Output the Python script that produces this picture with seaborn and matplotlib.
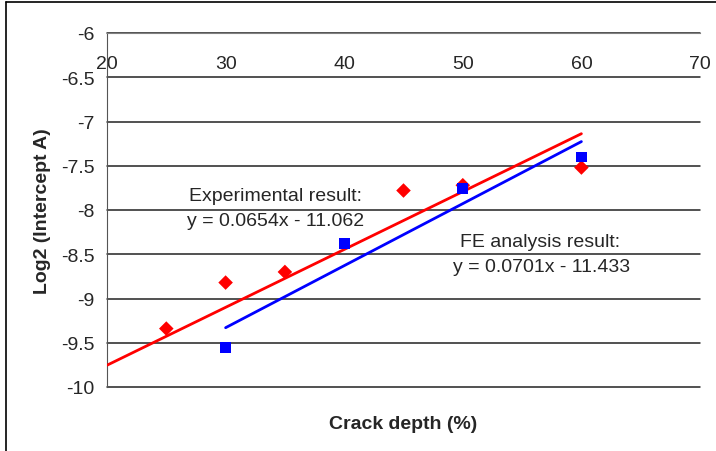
import numpy as np
import pandas as pd
import seaborn as sns
import matplotlib.pyplot as plt
from matplotlib.lines import Line2D

# data
exp_depth = [25, 30, 35, 45, 50, 60]
exp_log2 = [-9.34, -8.82, -8.70, -7.78, -7.72, -7.52]
fe_depth = [30, 40, 50, 60]
fe_log2 = [-9.55, -8.38, -7.76, -7.40]

# trendline coefficients (slope, intercept) and x span
exp_fit = (0.0654, -11.062)
exp_span = [20, 60]
fe_fit = (0.0701, -11.433)
fe_span = [30, 60]

x_ticks = [20, 30, 40, 50, 60, 70]
y_ticks = [-10, -9.5, -9, -8.5, -8, -7.5, -7, -6.5, -6]

sns.set_style("white")
plt.rcParams['font.family'] = ['Liberation Sans', 'DejaVu Sans']
plt.rcParams['axes.unicode_minus'] = False

fig = plt.figure(figsize=(7.16, 4.52), dpi=100)
ax = fig.add_axes([107 / 716, 1 - 388 / 452, 593 / 716, 354 / 452])

exp_df = pd.DataFrame({'depth': exp_depth, 'log2': exp_log2})
fe_df = pd.DataFrame({'depth': fe_depth, 'log2': fe_log2})
exp_line = pd.DataFrame({'depth': exp_span,
                         'log2': [exp_fit[0] * x + exp_fit[1] for x in exp_span]})
fe_line = pd.DataFrame({'depth': fe_span,
                        'log2': [fe_fit[0] * x + fe_fit[1] for x in fe_span]})

# horizontal gridlines
for yv in y_ticks:
    ax.axhline(yv, color='#222222', lw=1.1, zorder=1, clip_on=False)

sns.lineplot(data=exp_line, x='depth', y='log2', ax=ax, color='#ff0000', lw=2, zorder=3)
sns.lineplot(data=fe_line, x='depth', y='log2', ax=ax, color='#0000ff', lw=2, zorder=3)
sns.scatterplot(data=exp_df, x='depth', y='log2', ax=ax, marker='D', color='#ff0000',
                s=55, edgecolor='none', zorder=4)
sns.scatterplot(data=fe_df, x='depth', y='log2', ax=ax, marker='s', color='#0000ff',
                s=60, edgecolor='none', zorder=5)

ax.set_xlim(20, 70)
ax.set_ylim(-10, -6)
ax.set_xticks(x_ticks)
ax.set_yticks(y_ticks)
ax.set_yticklabels(['%g' % v for v in y_ticks])

# x axis crosses at y = -6 (top of the plot)
ax.spines['bottom'].set_position(('data', -6))
ax.spines['bottom'].set_color('#808080')
ax.spines['left'].set_color('#555555')
ax.spines['top'].set_visible(False)
ax.spines['right'].set_visible(False)
ax.tick_params(axis='x', direction='out', length=4, color='#808080', pad=12, labelsize=14)
ax.tick_params(axis='y', direction='out', length=6, color='#222222', pad=3, labelsize=14)

ax.set_xlabel('Crack depth (%)', fontsize=14, fontweight='bold')
ax.set_ylabel('Log2 (Intercept A)', fontsize=14, fontweight='bold', labelpad=7)
ax.xaxis.set_label_coords(0.5, -0.08)

ax.text(34.2, -7.84, 'Experimental result:', fontsize=14, ha='center', va='center')
ax.text(34.2, -8.12, 'y = 0.0654x - 11.062', fontsize=14, ha='center', va='center')
ax.text(56.5, -8.36, 'FE analysis result:', fontsize=14, ha='center', va='center')
ax.text(56.6, -8.64, 'y = 0.0701x - 11.433', fontsize=14, ha='center', va='center')

# outer chart frame (only left and top edges fall inside the picture)
fig.add_artist(Line2D([6 / 716, 6 / 716], [0, 1 - 3 / 452], color='black', lw=1.2))
fig.add_artist(Line2D([6 / 716, 1], [1 - 3 / 452, 1 - 3 / 452], color='black', lw=1.2))

plt.savefig('out.png', dpi=100)
